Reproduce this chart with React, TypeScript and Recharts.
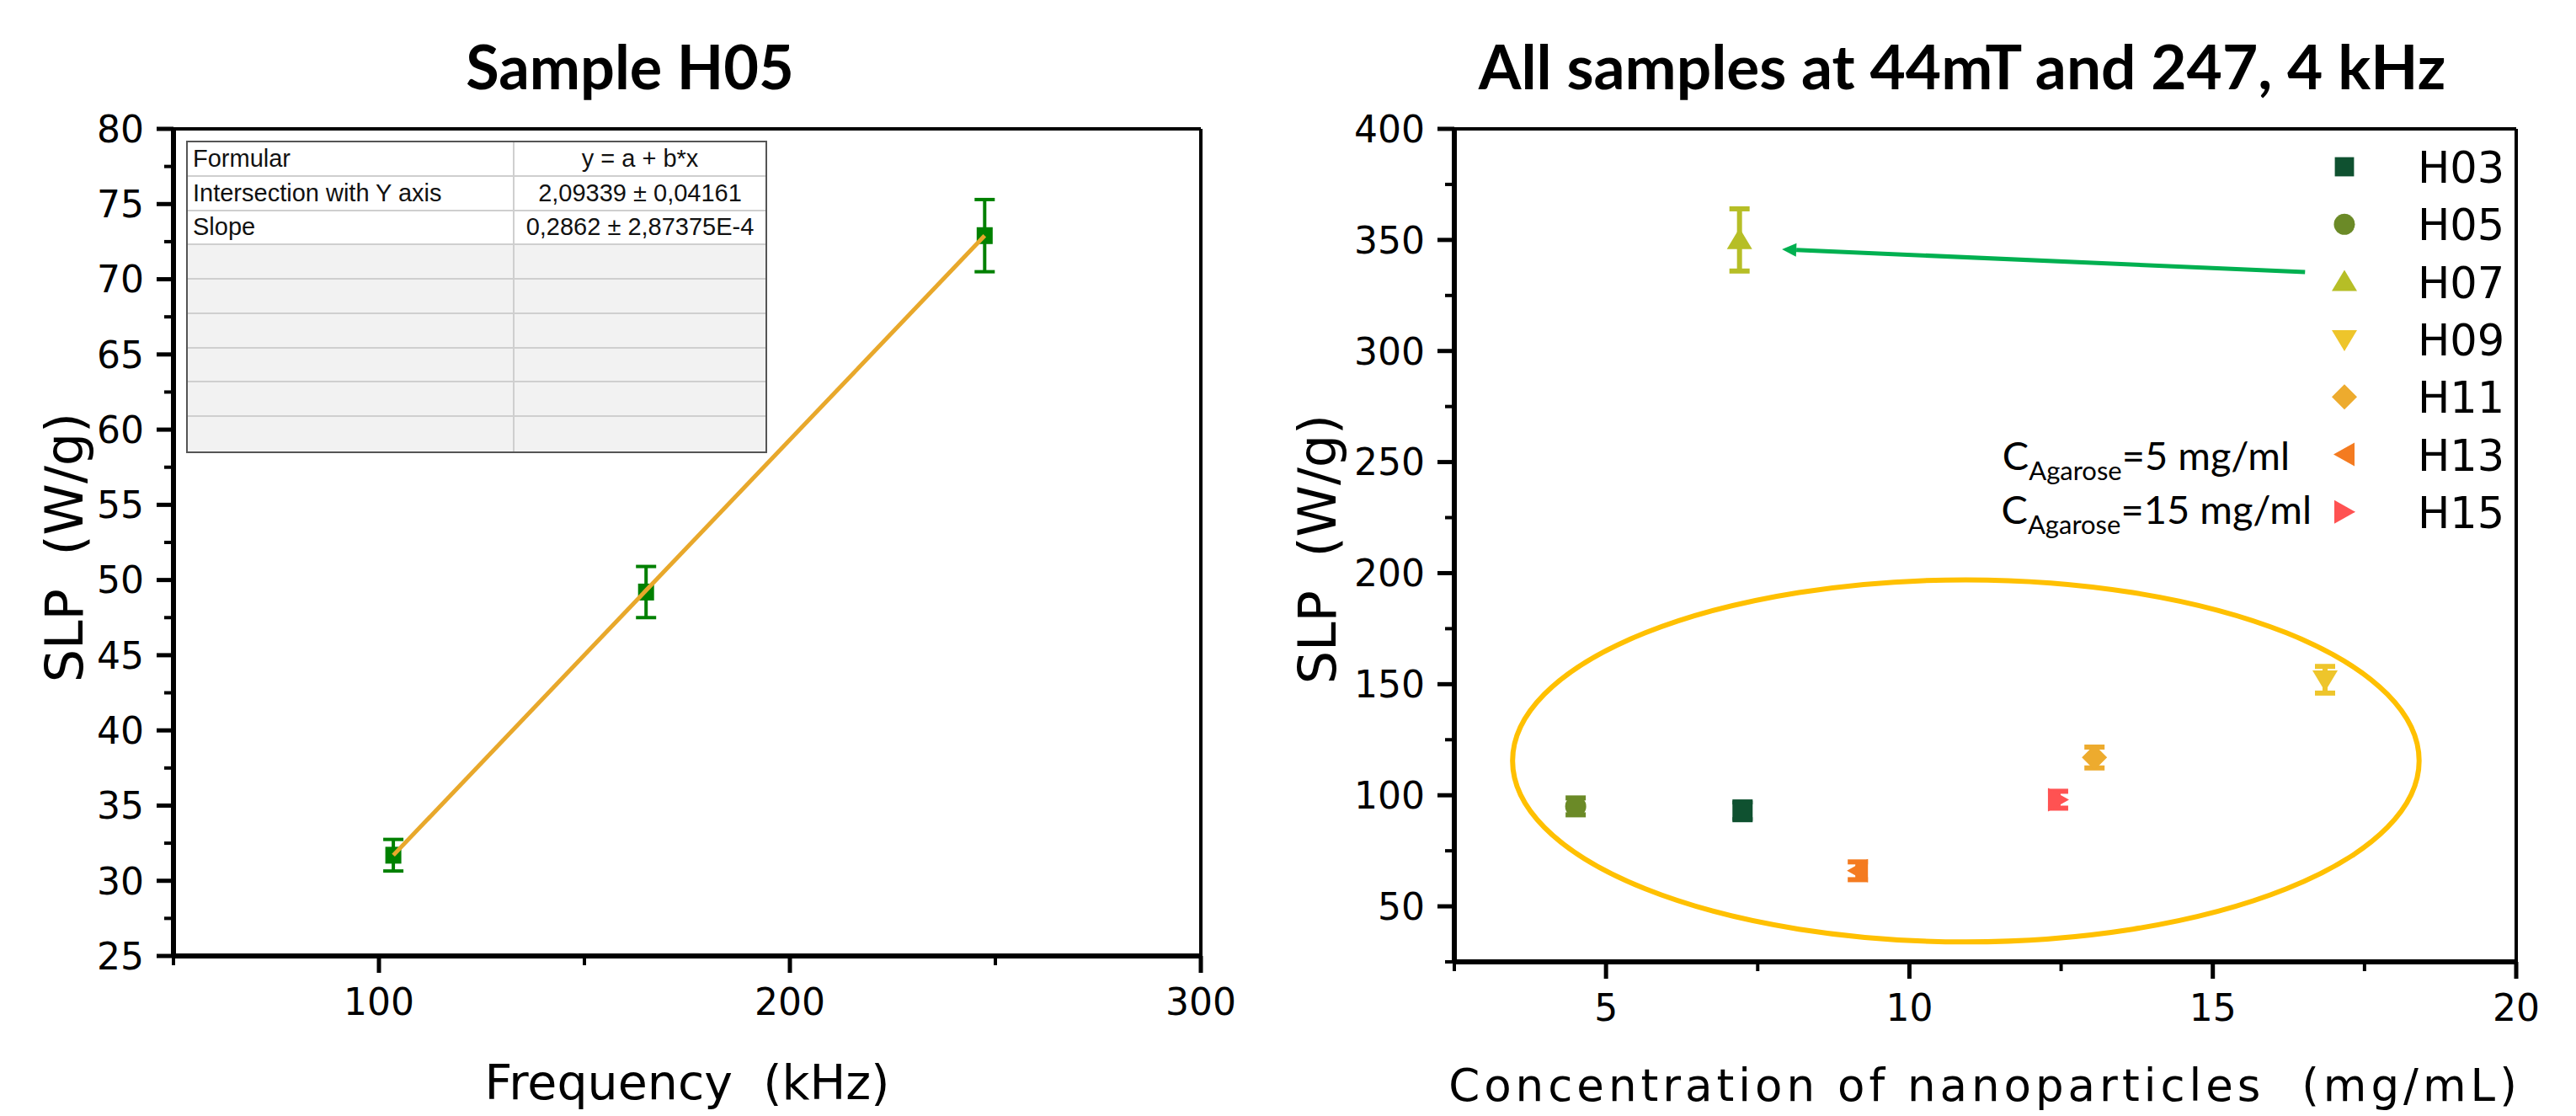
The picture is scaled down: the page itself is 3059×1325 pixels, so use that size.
import React from 'react';
import {
  ScatterChart,
  Scatter,
  XAxis,
  YAxis,
  ErrorBar,
  ReferenceLine,
  ReferenceArea,
  Legend,
} from 'recharts';

// ---- Sample H05: SLP vs frequency ----
const freqKHz = [103.5, 165, 247.4];
const slpH05 = [31.7, 49.2, 72.9];
const slpH05Err = [1.05, 1.7, 2.4];
// linear fit y = a + b*x, drawn between the first and last measurement
const fitFreq = [103.5, 247.4];
const fitSlp = [31.7, 72.9];

const fitTable = [
  ['Formular', 'y = a + b*x'],
  ['Intersection with Y axis', '2,09339 ± 0,04161'],
  ['Slope', '0,2862 ± 2,87375E-4'],
];
const emptyTableRows = 6;

const leftYMajor = [25, 30, 35, 40, 45, 50, 55, 60, 65, 70, 75, 80];
const leftYMinor = [27.5, 32.5, 37.5, 42.5, 47.5, 52.5, 57.5, 62.5, 67.5, 72.5, 77.5];
const leftXMajor = [100, 200, 300];
const leftXMinor = [50, 150, 250];

// ---- All samples at 44 mT ----
const samples = ['H03', 'H05', 'H07', 'H09', 'H11', 'H13', 'H15'];
const sampleConc = [7.25, 4.5, 7.2, 16.85, 13.05, 9.15, 12.45];
const sampleSlp = [93, 95, 350, 152, 117, 66, 98];
const sampleErr = [4, 3.8, 14, 6, 4.7, 4, 3.8];
const sampleColors = ['#0F5130', '#6B8A27', '#B6BE26', '#EEC52B', '#EDAB2E', '#F47B20', '#FF5252'];
const sampleShapes = ['square', 'circle', 'up', 'down', 'diamond', 'left', 'right'];

const rightYMajor = [50, 100, 150, 200, 250, 300, 350, 400];
const rightYMinor = [25, 75, 125, 175, 225, 275, 325, 375];
const rightXMajor = [5, 10, 15, 20];
const rightXMinor = [2.5, 7.5, 12.5, 17.5];

// highlighted group and arrow pointing to H07
const ellipseX = [3.46, 18.4];
const ellipseY = [34, 197];
const arrowFrom = { x: 16.52, y: 335.5 };
const arrowTo = { x: 7.9, y: 345.8 };

const TICK_FONT = '"DejaVu Sans", Verdana, sans-serif';
const NBSP = '\u00A0';

function Marker({ cx, cy, kind, color, s = 1 }: any) {
  if (cx == null || cy == null) return <g />;
  switch (kind) {
    case 'square':
      return <rect x={cx - 12 * s} y={cy - 12 * s} width={24 * s} height={24 * s} fill={color} />;
    case 'circle':
      return <circle cx={cx} cy={cy} r={12.5} fill={color} />;
    case 'up':
      return <path d={`M${cx},${cy - 14} L${cx + 15},${cy + 11} L${cx - 15},${cy + 11} Z`} fill={color} />;
    case 'down':
      return <path d={`M${cx},${cy + 14} L${cx + 15},${cy - 11} L${cx - 15},${cy - 11} Z`} fill={color} />;
    case 'diamond':
      return <path d={`M${cx},${cy - 15} L${cx + 15},${cy} L${cx},${cy + 15} L${cx - 15},${cy} Z`} fill={color} />;
    case 'left':
      return <path d={`M${cx - 13},${cy} L${cx + 12},${cy - 14} L${cx + 12},${cy + 14} Z`} fill={color} />;
    case 'right':
      return <path d={`M${cx + 13},${cy} L${cx - 12},${cy - 14} L${cx - 12},${cy + 14} Z`} fill={color} />;
    default:
      return <g />;
  }
}

// ticks: one axis per side, long marks + labels for major values, short marks for minor
const makeYTick = (axisX: number, major: number[]) => (props: any) => {
  const { y, payload } = props;
  const isMajor = major.includes(payload.value);
  return (
    <g>
      <line x1={axisX - (isMajor ? 20 : 11)} x2={axisX} y1={y} y2={y} stroke="#000" strokeWidth={isMajor ? 5 : 4} />
      {isMajor && (
        <text x={axisX - 35} y={y} dy="0.36em" textAnchor="end" fontFamily={TICK_FONT} fontSize={44} fill="#000">
          {payload.value}
        </text>
      )}
    </g>
  );
};

const makeXTick = (axisY: number, major: number[]) => (props: any) => {
  const { x, payload } = props;
  const isMajor = major.includes(payload.value);
  return (
    <g>
      <line x1={x} x2={x} y1={axisY} y2={axisY + (isMajor ? 20 : 11)} stroke="#000" strokeWidth={isMajor ? 5 : 4} />
      {isMajor && (
        <text x={x} y={axisY + 70} textAnchor="middle" fontFamily={TICK_FONT} fontSize={44} fill="#000">
          {payload.value}
        </text>
      )}
    </g>
  );
};

function Arrow(props: any) {
  const { x1, y1, x2, y2 } = props;
  const dx = x2 - x1;
  const dy = y2 - y1;
  const len = Math.sqrt(dx * dx + dy * dy) || 1;
  const ux = dx / len;
  const uy = dy / len;
  const head = 17;
  const half = 8;
  const bx = x2 - ux * head;
  const by = y2 - uy * head;
  return (
    <g>
      <line x1={x1} y1={y1} x2={bx} y2={by} stroke="#00B050" strokeWidth={5} />
      <path
        d={`M${x2},${y2} L${bx - uy * half},${by + ux * half} L${bx + uy * half},${by - ux * half} Z`}
        fill="#00B050"
      />
    </g>
  );
}

function SampleLegend() {
  const rowY = (i: number) => 48 + i * 68.3;
  return (
    <svg width={720} height={500}>
      {samples.map((s, i) => (
        <g key={s}>
          <Marker cx={484} cy={rowY(i)} kind={sampleShapes[i]} color={sampleColors[i]} s={0.95} />
          <text x={571} y={rowY(i) + 19} fontFamily={TICK_FONT} fontSize={51} fill="#000">
            {s}
          </text>
        </g>
      ))}
      <text x={419} y={rowY(5) + 18} textAnchor="end" fontFamily="Lato, sans-serif" fontSize={47} fill="#000">
        C<tspan dy={12} fontSize={31}>Agarose</tspan>
        <tspan dy={-12}>=5 mg/ml</tspan>
      </text>
      <text x={445} y={rowY(6) + 14} textAnchor="end" fontFamily="Lato, sans-serif" fontSize={47} fill="#000">
        C<tspan dy={12} fontSize={31}>Agarose</tspan>
        <tspan dy={-12}>=15 mg/ml</tspan>
      </text>
    </svg>
  );
}

function FitTable() {
  const rows = [...fitTable, ...Array.from({ length: emptyTableRows }, () => ['', ''])];
  return (
    <div
      style={{
        position: 'absolute',
        left: 221,
        top: 167,
        width: 690,
        height: 371,
        boxSizing: 'border-box',
        border: '2px solid #555',
        display: 'grid',
        gridTemplateColumns: '388px 1fr',
        gridTemplateRows: 'repeat(9, 1fr)',
        fontFamily: '"Liberation Sans", Arial, sans-serif',
        fontSize: 29,
        color: '#111',
        background: '#fff',
      }}
    >
      {rows.map((r, i) =>
        r.map((c, j) => (
          <div
            key={`${i}-${j}`}
            style={{
              background: i < 3 ? '#fff' : '#f2f2f2',
              borderRight: j === 0 ? '2px solid #cfcfcf' : 'none',
              borderBottom: i < rows.length - 1 ? '2px solid #cfcfcf' : 'none',
              display: 'flex',
              alignItems: 'center',
              justifyContent: j === 0 ? 'flex-start' : 'center',
              paddingLeft: j === 0 ? 6 : 0,
              whiteSpace: 'nowrap',
              lineHeight: 1,
            }}
          >
            {c}
          </div>
        ))
      )}
    </div>
  );
}

export default function App() {
  const h05Data = freqKHz.map((f, i) => ({ x: f, y: slpH05[i], err: slpH05Err[i] }));
  const fitData = fitFreq.map((f, i) => ({ x: f, y: fitSlp[i] }));
  const leftYTicks = [...leftYMajor, ...leftYMinor].sort((a, b) => a - b);
  const leftXTicks = [...leftXMajor, ...leftXMinor].sort((a, b) => a - b);
  const rightYTicks = [...rightYMajor, ...rightYMinor].sort((a, b) => a - b);
  const rightXTicks = [...rightXMajor, ...rightXMinor].sort((a, b) => a - b);

  return (
    <div style={{ position: 'absolute', left: 0, top: 0, width: 3059, height: 1325, background: '#fff', overflow: 'hidden' }}>
      {/* left: Sample H05 */}
      <div style={{ position: 'absolute', left: 0, top: 0 }}>
        <ScatterChart width={1500} height={1325} margin={{ top: 153, right: 74, bottom: 90, left: 66 }}>
          <XAxis
            type="number"
            dataKey="x"
            domain={[50, 300]}
            ticks={leftXTicks}
            interval={0}
            height={100}
            tickLine={false}
            axisLine={{ stroke: '#000', strokeWidth: 6 }}
            tick={makeXTick(1135, leftXMajor)}
          />
          <YAxis
            type="number"
            dataKey="y"
            domain={[25, 80]}
            ticks={leftYTicks}
            interval={0}
            width={140}
            tickLine={false}
            axisLine={{ stroke: '#000', strokeWidth: 6 }}
            tick={makeYTick(206, leftYMajor)}
          />
          <ReferenceLine y={80} stroke="#000" strokeWidth={4} />
          <ReferenceLine x={300} stroke="#000" strokeWidth={4} />
          <Scatter
            data={h05Data}
            fill="#008000"
            isAnimationActive={false}
            shape={(p: any) => <rect x={p.cx - 9.5} y={p.cy - 10} width={19} height={20} fill="#008000" />}
          >
            <ErrorBar dataKey="err" direction="y" width={12} strokeWidth={4} stroke="#008000" />
          </Scatter>
          <Scatter
            data={fitData}
            line={{ stroke: '#E8A82B', strokeWidth: 5 }}
            shape={() => <g />}
            legendType="none"
            isAnimationActive={false}
          />
        </ScatterChart>
      </div>

      {/* right: all samples */}
      <div style={{ position: 'absolute', left: 1500, top: 0 }}>
        <ScatterChart width={1559} height={1325} margin={{ top: 153, right: 71, bottom: 83, left: 67 }}>
          <XAxis
            type="number"
            dataKey="x"
            domain={[2.5, 20]}
            ticks={rightXTicks}
            interval={0}
            height={100}
            tickLine={false}
            axisLine={{ stroke: '#000', strokeWidth: 6 }}
            tick={makeXTick(1142, rightXMajor)}
          />
          <YAxis
            type="number"
            dataKey="y"
            domain={[25, 400]}
            ticks={rightYTicks}
            interval={0}
            width={160}
            tickLine={false}
            axisLine={{ stroke: '#000', strokeWidth: 6 }}
            tick={makeYTick(227, rightYMajor)}
          />
          <ReferenceLine y={400} stroke="#000" strokeWidth={4} />
          <ReferenceLine x={20} stroke="#000" strokeWidth={4} />
          <ReferenceArea
            x1={ellipseX[0]}
            x2={ellipseX[1]}
            y1={ellipseY[0]}
            y2={ellipseY[1]}
            shape={(p: any) => (
              <ellipse
                cx={p.x + p.width / 2}
                cy={p.y + p.height / 2}
                rx={Math.abs(p.width) / 2}
                ry={Math.abs(p.height) / 2}
                fill="none"
                stroke="#FFC000"
                strokeWidth={6}
              />
            )}
          />
          <ReferenceLine segment={[arrowFrom, arrowTo]} shape={(p: any) => <Arrow {...p} />} />
          {samples.map((s, i) => (
            <Scatter
              key={s}
              name={s}
              data={[{ x: sampleConc[i], y: sampleSlp[i], err: sampleErr[i] }]}
              fill={sampleColors[i]}
              isAnimationActive={false}
              shape={(p: any) => <Marker cx={p.cx} cy={p.cy} kind={sampleShapes[i]} color={sampleColors[i]} />}
            >
              <ErrorBar dataKey="err" direction="y" width={12} strokeWidth={6} stroke={sampleColors[i]} />
            </Scatter>
          ))}
          <Legend
            layout="vertical"
            align="center"
            verticalAlign="middle"
            wrapperStyle={{ left: 800, top: 150, width: 720, height: 500 }}
            content={() => <SampleLegend />}
          />
        </ScatterChart>
      </div>

      <FitTable />

      <svg width={3059} height={1325} style={{ position: 'absolute', left: 0, top: 0, pointerEvents: 'none' }}>
        <text x={748} y={106} textAnchor="middle" fontFamily="Lato, sans-serif" fontWeight={700} fontSize={72} fill="#000">
          Sample H05
        </text>
        <text x={2330} y={106} textAnchor="middle" fontFamily="Lato, sans-serif" fontWeight={700} fontSize={73} fill="#000">
          All samples at 44mT and 247, 4 kHz
        </text>
        <text x={816} y={1305} textAnchor="middle" fontFamily={TICK_FONT} fontSize={57} fill="#000">
          {`Frequency${NBSP} (kHz)`}
        </text>
        <text x={2357} y={1307} textAnchor="middle" fontFamily={TICK_FONT} fontSize={53} letterSpacing={5} fill="#000">
          {`Concentration of nanoparticles${NBSP} (mg/mL)`}
        </text>
        <text transform="translate(98, 650) rotate(-90)" textAnchor="middle" fontFamily={TICK_FONT} fontSize={62} fill="#000">
          {`SLP${NBSP} (W/g)`}
        </text>
        <text transform="translate(1586, 652) rotate(-90)" textAnchor="middle" fontFamily={TICK_FONT} fontSize={62} fill="#000">
          {`SLP${NBSP} (W/g)`}
        </text>
      </svg>
    </div>
  );
}
